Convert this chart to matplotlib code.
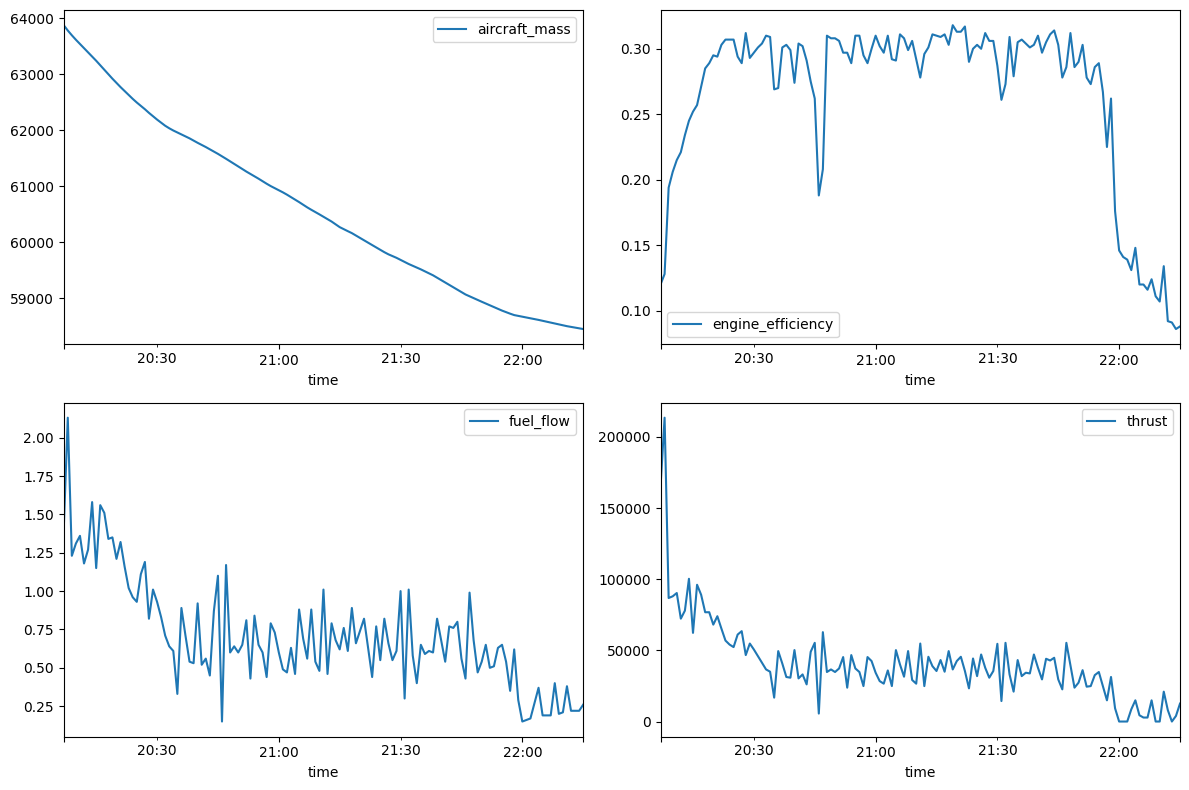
import numpy as np
import pandas as pd
import matplotlib
matplotlib.use('Agg')
import matplotlib.pyplot as plt

# flight log, one sample per minute starting 20:07
start_time = '2023-06-01 20:07'

aircraft_mass = [
    63875, 63780, 63695, 63615, 63540, 63465, 63390, 63315, 63240, 63160,
    63080, 63000, 62920, 62845, 62770, 62700, 62630, 62560, 62495, 62435,
    62375, 62310, 62250, 62190, 62135, 62080, 62035, 61995, 61960, 61925,
    61890, 61855, 61815, 61775, 61738, 61700, 61660, 61620, 61578, 61535,
    61490, 61445, 61400, 61355, 61308, 61262, 61220, 61178, 61135, 61090,
    61045, 61003, 60966, 60928, 60891, 60850, 60806, 60763, 60717, 60670,
    60623, 60580, 60540, 60498, 60456, 60413, 60370, 60320, 60270, 60233,
    60198, 60163, 60120, 60078, 60035, 59992, 59950, 59908, 59865, 59823,
    59785, 59753, 59722, 59685, 59647, 59612, 59580, 59548, 59516, 59480,
    59445, 59410, 59367, 59324, 59282, 59240, 59196, 59154, 59111, 59068,
    59035, 59003, 58970, 58938, 58906, 58875, 58843, 58812, 58780, 58752,
    58725, 58700, 58686, 58673, 58658, 58644, 58630, 58614, 58597, 58582,
    58566, 58549, 58532, 58517, 58502, 58489, 58476, 58463, 58451]

engine_efficiency = [
    0.120, 0.128, 0.194, 0.206, 0.215, 0.221, 0.234, 0.245, 0.252, 0.257,
    0.271, 0.285, 0.289, 0.295, 0.294, 0.303, 0.307, 0.307, 0.307, 0.294,
    0.289, 0.312, 0.293, 0.297, 0.301, 0.304, 0.310, 0.309, 0.269, 0.270,
    0.301, 0.303, 0.299, 0.274, 0.304, 0.302, 0.291, 0.275, 0.262, 0.188,
    0.208, 0.310, 0.308, 0.308, 0.306, 0.297, 0.297, 0.289, 0.310, 0.310,
    0.295, 0.289, 0.300, 0.310, 0.302, 0.297, 0.310, 0.292, 0.291, 0.311,
    0.308, 0.299, 0.306, 0.292, 0.278, 0.296, 0.301, 0.311, 0.310, 0.309,
    0.311, 0.303, 0.318, 0.313, 0.313, 0.317, 0.290, 0.300, 0.303, 0.300,
    0.312, 0.306, 0.306, 0.287, 0.261, 0.273, 0.309, 0.279, 0.305, 0.307,
    0.304, 0.301, 0.303, 0.310, 0.297, 0.305, 0.311, 0.314, 0.303, 0.278,
    0.286, 0.312, 0.286, 0.290, 0.303, 0.278, 0.273, 0.286, 0.289, 0.267,
    0.225, 0.262, 0.176, 0.146, 0.141, 0.139, 0.131, 0.148, 0.120, 0.120,
    0.116, 0.124, 0.111, 0.107, 0.134, 0.092, 0.091, 0.086, 0.088]

fuel_flow = [
    1.40, 2.13, 1.23, 1.31, 1.36, 1.18, 1.27, 1.58, 1.15, 1.56,
    1.51, 1.34, 1.35, 1.21, 1.32, 1.16, 1.02, 0.96, 0.93, 1.11,
    1.19, 0.82, 1.01, 0.93, 0.83, 0.71, 0.64, 0.61, 0.33, 0.89,
    0.71, 0.54, 0.53, 0.92, 0.52, 0.56, 0.45, 0.87, 1.10, 0.15,
    1.17, 0.60, 0.64, 0.60, 0.65, 0.81, 0.43, 0.84, 0.65, 0.60,
    0.44, 0.79, 0.73, 0.60, 0.49, 0.47, 0.63, 0.46, 0.88, 0.69,
    0.56, 0.88, 0.54, 0.48, 1.01, 0.46, 0.79, 0.68, 0.62, 0.76,
    0.61, 0.89, 0.66, 0.74, 0.82, 0.63, 0.44, 0.77, 0.55, 0.82,
    0.66, 0.55, 0.61, 1.00, 0.30, 1.01, 0.58, 0.40, 0.65, 0.59,
    0.61, 0.60, 0.82, 0.68, 0.54, 0.77, 0.76, 0.80, 0.56, 0.43,
    0.99, 0.68, 0.47, 0.54, 0.65, 0.50, 0.51, 0.63, 0.65, 0.54,
    0.35, 0.62, 0.29, 0.15, 0.16, 0.17, 0.27, 0.37, 0.19, 0.19,
    0.19, 0.40, 0.20, 0.21, 0.38, 0.22, 0.22, 0.22, 0.26]

thrust = [
    165000, 213500, 86800, 88000, 90300, 72300, 77900, 100300, 62300, 96100,
    89100, 76800, 76800, 68100, 74000, 65300, 56900, 54100, 52300, 61100,
    63500, 46700, 54800, 50600, 46000, 41300, 36600, 35000, 16800, 49500,
    40800, 31300, 30800, 50200, 30300, 33100, 26100, 49000, 55300, 5600,
    62800, 34800, 36600, 34800, 37300, 45300, 23800, 46700, 37300, 34800,
    24900, 45300, 42500, 34300, 28400, 26600, 35900, 24900, 50200, 40100,
    31500, 49500, 29200, 26600, 54800, 24900, 45500, 38900, 35500, 43200,
    35000, 49500, 36600, 42500, 45500, 35500, 23300, 44300, 31900, 47100,
    37800, 30800, 35500, 54600, 14400, 55300, 33100, 21000, 43200, 31900,
    34300, 33800, 47100, 37800, 29600, 44100, 42900, 44800, 29600, 22600,
    55300, 39600, 23800, 27300, 36100, 24500, 24900, 32600, 34800, 24900,
    14900, 31300, 9300, 0, 0, 0, 8600, 14900, 4400, 2800,
    2800, 14900, 0, 0, 21000, 8000, 0, 3900, 12600]

time = pd.date_range(start_time, periods=len(aircraft_mass), freq='min', name='time')
df = pd.DataFrame({'aircraft_mass': aircraft_mass,
                   'engine_efficiency': engine_efficiency,
                   'fuel_flow': fuel_flow,
                   'thrust': thrust}, index=time)

fig, axes = plt.subplots(2, 2, figsize=(12, 8))
for ax, col in zip(axes.flat, df.columns):
    df[[col]].plot(ax=ax)

plt.tight_layout()
plt.savefig('out.png', dpi=100, bbox_inches='tight')
